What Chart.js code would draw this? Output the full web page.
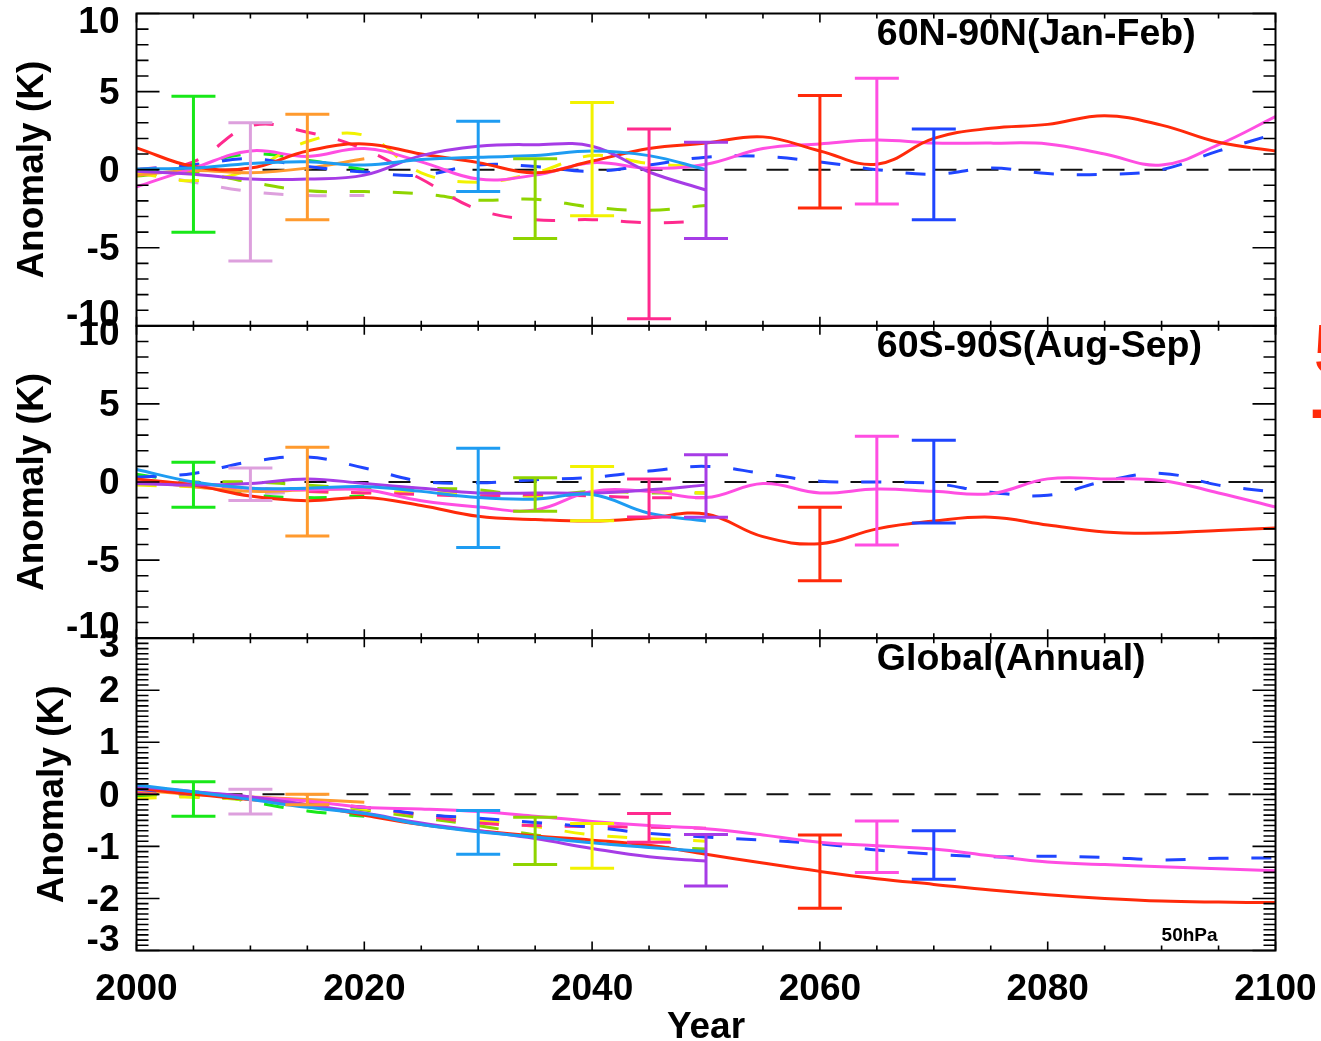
<!DOCTYPE html>
<html>
<head>
<meta charset="utf-8">
<script src="https://cdn.jsdelivr.net/npm/chart.js@4.4.0/dist/chart.umd.min.js"></script>
<style>
html,body{margin:0;padding:0;background:#fff;overflow:hidden;}
#c{display:block;}
</style>
</head>
<body>
<canvas id="c" width="1321" height="1041"></canvas>
<script>
// ---------------- DATA ----------------
const years = [2000,2005,2010,2015,2020,2025,2030,2035,2040,2045,2050,2055,2060,2065,2070,2075,2080,2085,2090,2095,2100];

// 60N-90N (Jan-Feb)
const nRed        = [1.4,0.2,0.1,1.2,1.65,1.0,0.45,-0.2,0.55,1.35,1.7,2.1,1.2,0.35,2.0,2.65,2.9,3.45,2.85,1.75,1.2];
const nMagenta    = [-1.1,0.1,1.2,0.85,1.35,0.5,-0.6,-0.35,0.45,0.1,0.35,1.35,1.65,1.9,1.7,1.7,1.65,1.0,0.3,1.6,3.4];
const nBlue       = [0.0,0.3,0.7,0.2,-0.15,-0.35,0.3,0.2,-0.1,0.3,0.8,0.85,0.5,0.0,-0.3,0.1,-0.25,-0.3,0.0,1.2,2.3];
const nPurple     = [-0.1,-0.3,-0.6,-0.6,-0.35,0.9,1.5,1.6,1.5,-0.15,-1.3];
const nDodger     = [0.05,0.1,0.4,0.5,0.3,0.65,0.8,0.9,1.2,0.9,0.0];
const nOrange     = [-0.35,-0.05,-0.2,0.1,0.7];
const nYellow     = [-0.2,-0.7,0.0,1.8,2.2,-0.2,-0.8,-0.2,0.9,0.4,0.2];
const nDeepPink   = [0.0,0.5,2.8,2.4,1.3,-0.6,-2.55,-3.2,-3.2,-3.4,-3.3];
const nYellowGreen= [-0.4,-0.2,-0.8,-1.35,-1.4,-1.55,-1.95,-1.9,-2.4,-2.6,-2.3];
const nLime       = [-0.3,0.3,1.0,0.6,0.0];
const nPlum       = [-0.1,-0.8,-1.4,-1.65,-1.65];

// 60S-90S (Aug-Sep)
const sRed        = [0.2,-0.2,-0.9,-1.2,-1.0,-1.5,-2.2,-2.4,-2.5,-2.3,-2.05,-3.5,-3.95,-3.0,-2.5,-2.25,-2.75,-3.2,-3.27,-3.1,-2.95];
const sMagenta    = [0.0,-0.1,-0.4,-0.5,-0.5,-1.2,-1.6,-1.8,-0.6,-0.6,-1.0,-0.1,-0.7,-0.45,-0.6,-0.75,0.2,0.2,0.1,-0.7,-1.6];
const sBlue       = [0.3,0.55,1.3,1.6,0.9,0.05,-0.05,0.15,0.3,0.7,1.0,0.55,0.05,0.0,-0.1,-0.65,-0.85,0.05,0.55,-0.2,-0.65];
const sPurple     = [-0.1,-0.2,-0.1,0.2,-0.1,-0.4,-0.7,-0.7,-0.7,-0.5,-0.2];
const sDodger     = [0.8,0.0,-0.4,-0.4,-0.3,-0.6,-1.0,-1.1,-0.8,-2.0,-2.5];
const sOrange     = [0.1,-0.3,-0.6,-0.5,-0.4];
const sYellow     = [-0.2,-0.3,-0.4,-0.6,-0.7,-0.6,-0.8,-0.9,-0.7,-0.6,-0.7];
const sDeepPink   = [0.1,-0.2,-0.4,-0.6,-0.7,-0.8,-0.9,-0.8,-0.9,-1.0,-1.0];
const sYellowGreen= [-0.1,0.0,0.0,-0.2,-0.4,-0.4,-0.5,-0.9,-0.6,-0.7,-0.7];
const sLime       = [0.5,-0.1,-0.8,-1.0,-0.9];
const sPlum       = [0.0,-0.3,-0.7,-0.6,-0.3];

// Global (Annual)
const gRed        = [0.12,0.0,-0.1,-0.2,-0.4,-0.58,-0.7,-0.8,-0.88,-0.98,-1.15,-1.32,-1.48,-1.62,-1.73,-1.84,-1.93,-2.0,-2.05,-2.07,-2.08];
const gMagenta    = [0.15,0.05,-0.05,-0.13,-0.25,-0.28,-0.33,-0.42,-0.52,-0.6,-0.66,-0.78,-0.92,-0.99,-1.05,-1.18,-1.3,-1.35,-1.39,-1.43,-1.47];
const gBlue       = [0.1,0.0,-0.1,-0.2,-0.25,-0.38,-0.46,-0.54,-0.63,-0.75,-0.82,-0.88,-0.95,-1.07,-1.15,-1.2,-1.19,-1.21,-1.26,-1.23,-1.22];
const gPurple     = [0.15,0.05,-0.05,-0.2,-0.36,-0.55,-0.7,-0.85,-1.04,-1.2,-1.28];
const gDodger     = [0.18,0.05,-0.1,-0.25,-0.37,-0.58,-0.72,-0.82,-0.93,-1.02,-1.1];
const gOrange     = [0.08,0.0,-0.05,-0.1,-0.15];
const gYellow     = [-0.08,-0.05,-0.1,-0.15,-0.28,-0.38,-0.5,-0.62,-0.78,-0.85,-0.9];
const gDeepPink   = [0.05,0.0,-0.05,-0.15,-0.25,-0.4,-0.55,-0.6,-0.62,-0.63,-0.65];
const gYellowGreen= [0.0,-0.05,-0.1,-0.15,-0.3,-0.45,-0.6,-0.78,-0.92,-1.0,-1.05];
const gLime       = [-0.05,0.05,-0.14,-0.32,-0.42];
const gPlum       = [0.1,0.0,-0.1,-0.2,-0.28];

// Error bars: year of each model's bar, and [low, high] per panel
const errYears  = [2005,2010,2015,2030,2035,2040,2045,2050,2060,2065,2070];
const errModels = ['lime','plum','orange','dodger','yellowgreen','yellow','deeppink','purple','red','magenta','blue'];
const nErrLow   = [-4.0,-5.85,-3.2,-1.4,-4.4,-2.95,-9.55,-4.4,-2.45,-2.2,-3.2];
const nErrHigh  = [4.7,3.0,3.55,3.1,0.7,4.3,2.6,1.75,4.75,5.85,2.6];
const sErrLow   = [-1.62,-1.18,-3.46,-4.19,-1.88,-2.48,-2.24,-2.26,-6.32,-4.04,-2.63];
const sErrHigh  = [1.26,0.9,2.22,2.16,0.28,1.0,0.19,1.75,-1.62,2.93,2.67];
const gErrLow   = [-0.42,-0.38,-0.2,-1.15,-1.35,-1.42,-0.92,-1.76,-2.19,-1.5,-1.63];
const gErrHigh  = [0.24,0.1,0.0,-0.31,-0.44,-0.56,-0.37,-0.77,-0.78,-0.51,-0.7];

const panelTitles = ['60N-90N(Jan-Feb)','60S-90S(Aug-Sep)','Global(Annual)'];
const xTickLabels = [2000,2020,2040,2060,2080,2100];

// ---------------- STYLE ----------------
const colors = {
  red:'#ff2a0a', magenta:'#ff4ee2', blue:'#1f45ff', purple:'#a63ce6', dodger:'#1e9cf2',
  orange:'#ff9a2e', yellow:'#f2f200', deeppink:'#ff2a8e', yellowgreen:'#8fd400',
  lime:'#18e818', plum:'#dda0dd'
};
const dashed = {blue:true, yellow:true, deeppink:true, yellowgreen:true, lime:true, plum:true};
const FONT = '"Liberation Sans", Arial, Helvetica, sans-serif';

const panels = [
  {id:'yN', min:-10, max:10, step:5, minor:1, title:panelTitles[0], errLow:nErrLow, errHigh:nErrHigh, titlePad:11,
   series:{dodger:nDodger,purple:nPurple,red:nRed,magenta:nMagenta,blue:nBlue,orange:nOrange,deeppink:nDeepPink,yellow:nYellow,yellowgreen:nYellowGreen,lime:nLime,plum:nPlum}},
  {id:'yS', min:-10, max:10, step:5, minor:1, title:panelTitles[1], errLow:sErrLow, errHigh:sErrHigh, titlePad:11,
   series:{dodger:sDodger,purple:sPurple,red:sRed,magenta:sMagenta,blue:sBlue,orange:sOrange,deeppink:sDeepPink,yellow:sYellow,yellowgreen:sYellowGreen,lime:sLime,plum:sPlum}},
  {id:'yG', min:-3, max:3, step:1, minor:0.1, title:panelTitles[2], errLow:gErrLow, errHigh:gErrHigh, titlePad:31,
   series:{dodger:gDodger,purple:gPurple,red:gRed,magenta:gMagenta,blue:gBlue,orange:gOrange,deeppink:gDeepPink,yellow:gYellow,yellowgreen:gYellowGreen,lime:gLime,plum:gPlum}}
];

const datasets = [];
panels.forEach(p => {
  Object.keys(p.series).forEach(k => {
    const vals = p.series[k];
    datasets.push({
      label: p.id + '-' + k,
      yAxisID: p.id,
      data: vals.map((v, i) => ({x: years[i], y: v})),
      borderColor: colors[k],
      borderWidth: 3,
      borderDash: dashed[k] ? [20, 23] : [],
      pointRadius: 0,
      tension: 0.4,
      fill: false
    });
  });
});

const scales = {
  x: {
    type: 'linear', position: 'bottom', min: 2000, max: 2100,
    grid: {display: false}, border: {display: false},
    ticks: {
      stepSize: 20, autoSkip: false, maxRotation: 0, padding: 13,
      color: '#000', font: {family: FONT, size: 37, weight: 'bold', lineHeight: 1},
      callback: v => xTickLabels.includes(v) ? String(v) : ''
    },
    title: {display: true, text: 'Year', color: '#000', font: {family: FONT, size: 37, weight: 'bold', lineHeight: 1}, padding: {top: 0, bottom: -5}},
    afterFit: s => { s.height = 90.5; s.paddingLeft = 0; s.paddingRight = 0; }
  }
};
panels.forEach((p, i) => {
  scales[p.id] = {
    type: 'linear', position: 'left', stack: 'panels', stackWeight: 1, weight: 3 - i,
    min: p.min, max: p.max,
    grid: {display: false}, border: {display: false},
    ticks: {
      stepSize: p.step, autoSkip: false, padding: 9, color: '#000',
      font: {family: FONT, size: 37, weight: 'bold', lineHeight: 0.7},
      callback: v => String(v)
    },
    title: {display: true, text: 'Anomaly (K)', color: '#000', font: {family: FONT, size: 37, weight: 'bold'}, padding: {top: p.titlePad, bottom: 0}},
    afterFit: s => { s.width = 136.5; s.paddingTop = 0; s.paddingBottom = 0; }
  };
});

const framePlugin = {
  id: 'frame',
  beforeDraw(chart) {
    panels.forEach(p => {
      const s = chart.scales[p.id];
      const items = s.getLabelItems();
      if (!items || items._shifted) return;
      items.forEach(it => { it.options.translation[1] += 2; });
      items[0].options.translation[1] -= 12;
      items[items.length - 1].options.translation[1] += 7;
      items._shifted = true;
    });
  },
  beforeDatasetsDraw(chart) {
    const ctx = chart.ctx, xs = chart.scales.x;
    panels.forEach(p => {
      const s = chart.scales[p.id];
      const y = s.getPixelForValue(0);
      ctx.save();
      ctx.strokeStyle = '#111'; ctx.lineWidth = 2; ctx.setLineDash([22, 20]);
      ctx.beginPath(); ctx.moveTo(xs.left, y); ctx.lineTo(xs.right, y); ctx.stroke();
      ctx.restore();
    });
  },
  afterDatasetsDraw(chart) {
    const ctx = chart.ctx, xs = chart.scales.x;
    panels.forEach(p => {
      const s = chart.scales[p.id];
      // error bars
      errYears.forEach((yr, i) => {
        const x = xs.getPixelForValue(yr);
        const y1 = s.getPixelForValue(p.errLow[i]);
        const y2 = s.getPixelForValue(p.errHigh[i]);
        ctx.save();
        ctx.strokeStyle = colors[errModels[i]]; ctx.lineWidth = 3; ctx.lineCap = 'butt';
        ctx.beginPath();
        ctx.moveTo(x, y1); ctx.lineTo(x, y2);
        ctx.moveTo(x - 22, y1); ctx.lineTo(x + 22, y1);
        ctx.moveTo(x - 22, y2); ctx.lineTo(x + 22, y2);
        ctx.stroke();
        ctx.restore();
      });
      // frame and inward ticks
      const L = xs.left, R = xs.right, T = s.top, B = s.bottom;
      ctx.save();
      ctx.strokeStyle = '#000'; ctx.lineWidth = 2;
      ctx.strokeRect(L, T, R - L, B - T);
      ctx.lineWidth = 1.6;
      ctx.beginPath();
      for (let yr = xs.min; yr <= xs.max; yr += 5) {
        const x = xs.getPixelForValue(yr);
        const len = (yr % 20 === 0) ? 9 : 5;
        ctx.moveTo(x, B); ctx.lineTo(x, B - len);
        ctx.moveTo(x, T); ctx.lineTo(x, T + len);
      }
      const n = Math.round((p.max - p.min) / p.minor);
      for (let k = 0; k <= n; k++) {
        const v = p.min + k * p.minor;
        const y = s.getPixelForValue(v);
        const r = v / p.step;
        const major = Math.abs(r - Math.round(r)) < 1e-6;
        const len = major ? 23 : 12;
        ctx.moveTo(L, y); ctx.lineTo(L + len, y);
        ctx.moveTo(R, y); ctx.lineTo(R - len, y);
      }
      ctx.stroke();
      // panel title
      ctx.fillStyle = '#000';
      ctx.font = 'bold 37.5px ' + FONT;
      ctx.textAlign = 'left'; ctx.textBaseline = 'middle';
      ctx.fillText(p.title, xs.getPixelForValue(2065), T + 21);
      ctx.restore();
    });
    // small pressure label in global panel
    const g = chart.scales.yG;
    ctx.save();
    ctx.fillStyle = '#000';
    ctx.font = 'bold 19px ' + FONT;
    ctx.textAlign = 'left'; ctx.textBaseline = 'middle';
    ctx.fillText('50hPa', xs.getPixelForValue(2090.0), g.bottom - 15);
    // clipped red annotation at right edge
    ctx.fillStyle = '#ff2a0a';
    ctx.font = 'bold 70px ' + FONT;
    ctx.textBaseline = 'top';
    ctx.fillText('5', 1314, 320);
    ctx.fillText('-', 1310, 378);
    ctx.restore();
  }
};

new Chart(document.getElementById('c'), {
  type: 'line',
  data: {datasets},
  options: {
    responsive: false, animation: false, devicePixelRatio: 1, events: [],
    layout: {padding: {top: 13.5, right: 45.5, left: 0, bottom: 0}},
    plugins: {legend: {display: false}, tooltip: {enabled: false}},
    scales
  },
  plugins: [framePlugin]
});
</script>
</body>
</html>
